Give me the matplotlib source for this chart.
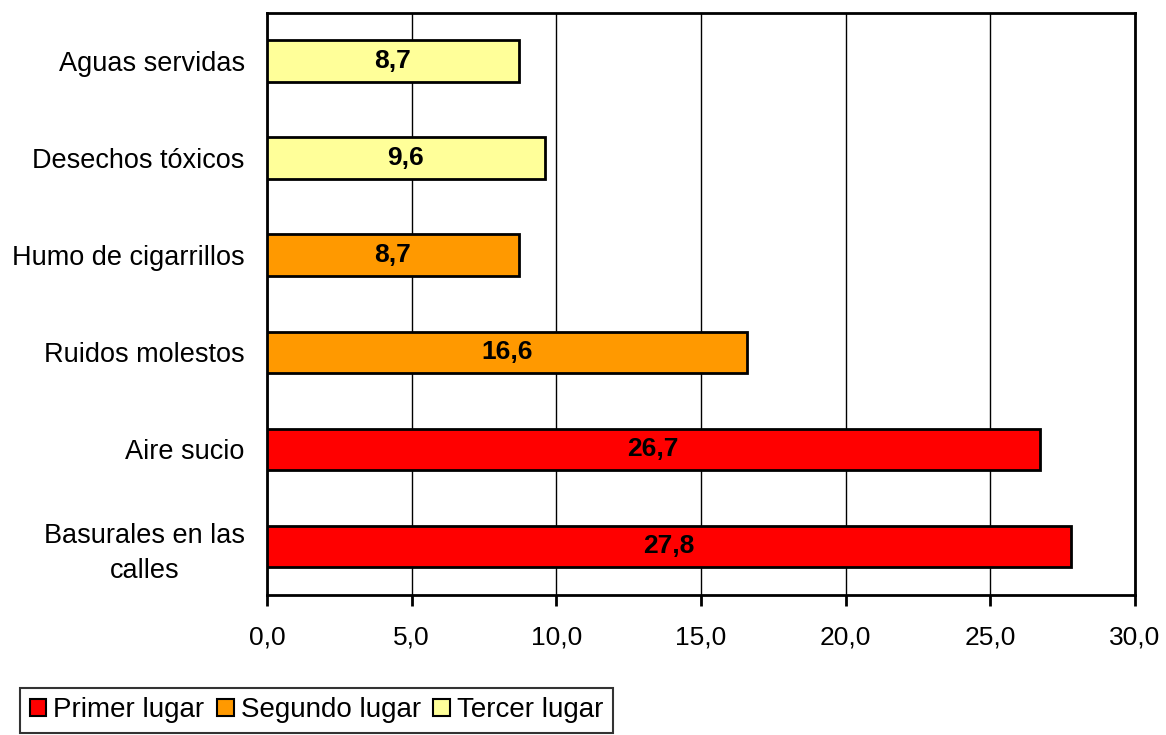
import matplotlib
matplotlib.use("Agg")
import matplotlib.pyplot as plt
from matplotlib.ticker import FuncFormatter

plt.rcParams['font.family'] = ['Liberation Sans', 'DejaVu Sans']

categories = ["Basurales en las\ncalles", "Aire sucio", "Ruidos molestos",
              "Humo de cigarrillos", "Desechos tóxicos", "Aguas servidas"]
series_names = ["Primer lugar", "Segundo lugar", "Tercer lugar"]
primer = [27.8, 26.7, None, None, None, None]
segundo = [None, None, 16.6, 8.7, None, None]
tercer = [None, None, None, None, 9.6, 8.7]
colors = ["#FF0000", "#FF9900", "#FFFF99"]
xticks = [0, 5, 10, 15, 20, 25, 30]

fig = plt.figure(figsize=(11.66, 7.35), dpi=100)
ax = fig.add_axes([267/1166, 1 - 595/735, (1135-267)/1166, (595-12.7)/735])

ypos = list(range(len(categories)))
handles = []
for name, vals, c in zip(series_names, [primer, segundo, tercer], colors):
    ys = [y for y, v in zip(ypos, vals) if v is not None]
    vs = [v for v in vals if v is not None]
    h = ax.barh(ys, vs, height=0.43, color=c, edgecolor="black", linewidth=2,
                label=name, zorder=3)
    handles.append(h)
    for y, v in zip(ys, vs):
        ax.text(v / 2, y, f"{v:.1f}".replace(".", ","), ha="center", va="center",
                fontsize=19, fontweight="bold", zorder=4)

ax.set_xlim(0, 30)
ax.set_ylim(-0.5, len(categories) - 0.5)
ax.set_xticks(xticks)
ax.xaxis.set_major_formatter(FuncFormatter(lambda v, p: f"{v:.1f}".replace(".", ",")))
ax.set_yticks(ypos)
ax.set_yticklabels(categories, multialignment="center", linespacing=1.45)
ax.tick_params(axis="y", length=0, pad=16, labelsize=19.5)
ax.tick_params(axis="x", length=8, width=2, direction="out", pad=14, labelsize=19)
ax.grid(axis="x", color="black", linewidth=1, zorder=0)
for s in ax.spines.values():
    s.set_linewidth(2)
    s.set_color("black")

leg = fig.legend(handles=handles, labels=series_names, loc="lower left",
                 bbox_to_anchor=(20/1166, 2/735), ncol=3, fontsize=20,
                 frameon=True, fancybox=False, edgecolor="black",
                 handlelength=0.6, handleheight=0.6, handletextpad=0.25,
                 columnspacing=0.45, borderpad=0.35, borderaxespad=0)
leg.get_frame().set_linewidth(1.5)
for p in leg.get_patches():
    p.set_linewidth(1.5)

fig.savefig("out.png", dpi=100)
